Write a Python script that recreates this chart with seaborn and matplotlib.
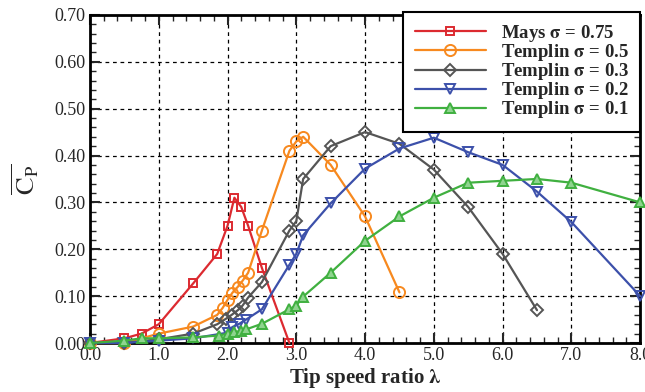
import numpy as np
import pandas as pd
import matplotlib
matplotlib.use("Agg")
import matplotlib.pyplot as plt
from matplotlib.ticker import MultipleLocator, FormatStrFormatter
import seaborn as sns

sns.set_style("ticks")
plt.rcParams['font.family'] = ['Liberation Serif', 'DejaVu Serif']
plt.rcParams['mathtext.fontset'] = 'stix'

# data
mays_x = [0.0, 0.5, 0.75, 1.0, 1.5, 1.85, 2.0, 2.1, 2.2, 2.3, 2.5, 2.9]
mays_y = [0.0, 0.01, 0.02, 0.04, 0.127, 0.19, 0.25, 0.31, 0.29, 0.25, 0.16, 0.0]

t05_x = [0.0, 0.5, 1.0, 1.5, 1.85, 1.93, 2.0, 2.07, 2.15, 2.22, 2.3, 2.5, 2.9, 3.0, 3.1, 3.5, 4.0, 4.5]
t05_y = [0.0, 0.0, 0.02, 0.035, 0.06, 0.075, 0.092, 0.107, 0.12, 0.133, 0.15, 0.24, 0.41, 0.43, 0.44, 0.38, 0.27, 0.108]

t03_x = [0.0, 0.5, 1.0, 1.5, 1.85, 1.98, 2.06, 2.15, 2.22, 2.3, 2.5, 2.9, 3.0, 3.1, 3.5, 4.0, 4.5, 5.0, 5.5, 6.0, 6.5]
t03_y = [0.0, 0.0, 0.008, 0.02, 0.04, 0.052, 0.06, 0.07, 0.08, 0.097, 0.13, 0.24, 0.26, 0.35, 0.42, 0.45, 0.425, 0.37, 0.29, 0.19, 0.07]

t02_x = [0.0, 0.5, 1.0, 1.5, 2.0, 2.07, 2.17, 2.27, 2.5, 2.9, 3.0, 3.1, 3.5, 4.0, 4.5, 5.0, 5.5, 6.0, 6.5, 7.0, 8.0]
t02_y = [0.0, 0.0, 0.005, 0.01, 0.022, 0.034, 0.041, 0.05, 0.072, 0.167, 0.19, 0.23, 0.298, 0.372, 0.415, 0.438, 0.407, 0.38, 0.323, 0.258, 0.10]

t01_x = [0.0, 0.5, 0.75, 1.0, 1.5, 1.88, 2.0, 2.1, 2.2, 2.27, 2.5, 2.9, 3.0, 3.1, 3.5, 4.0, 4.5, 5.0, 5.5, 6.0, 6.5, 7.0, 8.0]
t01_y = [0.0, 0.005, 0.01, 0.01, 0.012, 0.016, 0.02, 0.023, 0.026, 0.029, 0.041, 0.072, 0.08, 0.099, 0.15, 0.218, 0.27, 0.31, 0.342, 0.346, 0.35, 0.342, 0.30]

labels = [r'Mays $\mathbf{\sigma}$ = 0.75', r'Templin $\mathbf{\sigma}$ = 0.5',
          r'Templin $\mathbf{\sigma}$ = 0.3', r'Templin $\mathbf{\sigma}$ = 0.2',
          r'Templin $\mathbf{\sigma}$ = 0.1']
colors = ['#dc2a30', '#f7891f', '#555555', '#3c50aa', '#40b040']
markers = ['s', 'o', 'D', 'v', '^']
msizes = [6, 8, 6, 7, 7]
faces = ['none', 'none', 'none', 'none', '#8fd48f']

series = [(mays_x, mays_y), (t05_x, t05_y), (t03_x, t03_y), (t02_x, t02_y), (t01_x, t01_y)]

fig = plt.figure(figsize=(6.45, 3.92), dpi=100)
ax = fig.add_axes([0.1395, 0.125, 0.853, 0.837])

for (xs, ys), lab, c, m, ms, fc in zip(series, labels, colors, markers, msizes, faces):
    df = pd.DataFrame({'x': xs, 'y': ys})
    sns.lineplot(data=df, x='x', y='y', ax=ax, color=c, marker=m, markersize=ms,
                 markerfacecolor=fc, markeredgecolor=c, markeredgewidth=1.4,
                 linewidth=1.6, label=lab, sort=False, clip_on=False, zorder=3)

ax.set_xlim(0, 8)
ax.set_ylim(0, 0.7)
ax.xaxis.set_major_locator(MultipleLocator(1.0))
ax.xaxis.set_minor_locator(MultipleLocator(0.2))
ax.yaxis.set_major_locator(MultipleLocator(0.1))
ax.yaxis.set_minor_locator(MultipleLocator(0.02))
ax.xaxis.set_major_formatter(FormatStrFormatter('%.1f'))
ax.yaxis.set_major_formatter(FormatStrFormatter('%.2f'))
ax.tick_params(which='both', direction='in', top=True, right=True, width=1.5)
ax.tick_params(which='major', length=7, labelsize=13, pad=3)
ax.tick_params(which='minor', length=4, width=1.0)
for sp in ax.spines.values():
    sp.set_linewidth(2)
    sp.set_color('black')

ax.grid(True, which='major', color='black', linestyle=(0, (3, 3)), linewidth=0.9)
ax.set_axisbelow(True)

ax.set_xlabel(r'Tip speed ratio $\mathbf{\lambda}$', fontsize=15, fontweight='bold', labelpad=1)
ax.set_ylabel(r'$\overline{\mathrm{C}_{\mathrm{P}}}$', fontsize=19, labelpad=10)

leg = ax.legend(loc='upper right', bbox_to_anchor=(1.0, 1.01), frameon=True, fancybox=False,
                prop={'weight': 'bold', 'size': 13.5}, handlelength=3.8, handletextpad=0.8,
                labelspacing=-0.1, borderpad=0.6, borderaxespad=0.0)
leg.get_frame().set_edgecolor('black')
leg.get_frame().set_linewidth(1.5)
leg.get_frame().set_alpha(1)

fig.savefig('out.png', dpi=100)
